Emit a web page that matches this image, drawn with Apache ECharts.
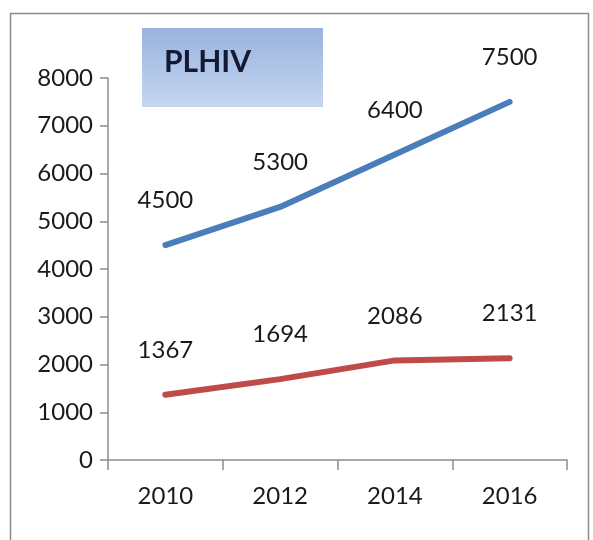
<!DOCTYPE html>
<html><head><meta charset="utf-8">
<script src="https://cdn.jsdelivr.net/npm/echarts@6/dist/echarts.min.js"></script>
<style>html,body{margin:0;padding:0;background:#fff}#c{width:593px;height:540px}</style>
</head><body><div id="c"></div>
<script>
var categories = ['2010', '2012', '2014', '2016'];
var plhiv = [4500, 5300, 6400, 7500];
var second = [1367, 1694, 2086, 2131];
var yTicks = [0, 1000, 2000, 3000, 4000, 5000, 6000, 7000, 8000];

var chart = echarts.init(document.getElementById('c'));
var font = 'Lato, "Open Sans", sans-serif';
function lbl() {
  return {show: true, position: 'top', distance: 32, fontSize: 24, color: '#1a1a1a', fontFamily: font};
}
chart.setOption({
  animation: false,
  backgroundColor: '#fff',
  grid: {left: 108, right: 26, top: 78, bottom: 80},
  graphic: [
    {type: 'rect', shape: {x: 10.5, y: 13.5, width: 578, height: 560},
     style: {fill: 'none', stroke: '#8c8c8c', lineWidth: 1.5}, z: 0},
    {type: 'rect', shape: {x: 142, y: 28, width: 181, height: 79},
     style: {fill: new echarts.graphic.LinearGradient(0, 0, 0, 1, [
       {offset: 0, color: '#99b3df'}, {offset: 1, color: '#c6d6f0'}])}, z: 1},
    {type: 'text', x: 164, y: 62,
     style: {text: 'PLHIV', font: 'bold 30px ' + font, fill: '#141a33', textVerticalAlign: 'middle'}, z: 2}
  ],
  xAxis: {
    type: 'category', data: categories, boundaryGap: true,
    axisLine: {lineStyle: {color: '#8c8c8c', width: 1.5}},
    axisTick: {show: true, length: 10, lineStyle: {color: '#8c8c8c', width: 1.5}},
    axisLabel: {margin: 24, fontSize: 24, color: '#1a1a1a', fontFamily: font}
  },
  yAxis: {
    type: 'value', min: yTicks[0], max: yTicks[yTicks.length - 1], interval: 1000,
    axisLine: {show: true, lineStyle: {color: '#8c8c8c', width: 1.5}},
    axisTick: {show: true, length: 8, lineStyle: {color: '#8c8c8c', width: 1.5}},
    splitLine: {show: false},
    axisLabel: {margin: 15, fontSize: 24, color: '#1a1a1a', fontFamily: font,
      formatter: function (v) { return String(v); }}
  },
  series: [
    {type: 'line', data: plhiv, showSymbol: true, symbol: 'circle', symbolSize: 1,
     itemStyle: {color: 'rgba(0,0,0,0)'},
     lineStyle: {color: '#4a7ebb', width: 6, cap: 'round'},
     label: lbl()},
    {type: 'line', data: second, showSymbol: true, symbol: 'circle', symbolSize: 1,
     itemStyle: {color: 'rgba(0,0,0,0)'},
     lineStyle: {color: '#be4b48', width: 6, cap: 'round'},
     label: lbl()}
  ]
});
</script></body></html>
